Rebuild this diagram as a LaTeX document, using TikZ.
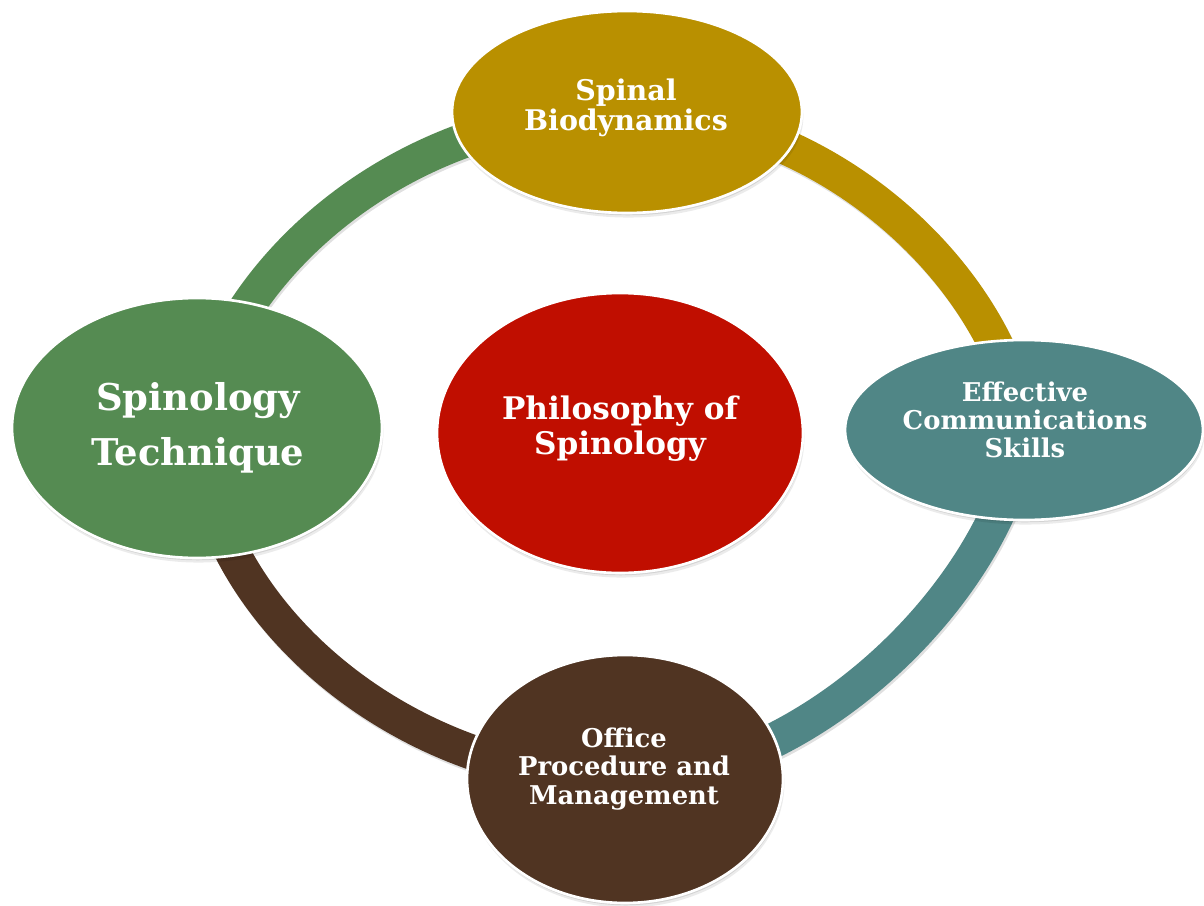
\documentclass[tikz,border=0pt]{standalone}
\usepackage{fontspec}
\setmainfont{DejaVu Serif}
\usetikzlibrary{shapes.geometric}
\definecolor{cgold}{HTML}{B99000}
\definecolor{cteal}{HTML}{508686}
\definecolor{cbrown}{HTML}{503422}
\definecolor{cgreen}{HTML}{558B52}
\definecolor{cred}{HTML}{C00E00}
\pgfdeclarelayer{paper}
\pgfdeclarelayer{background}
\pgfsetlayers{paper,background,main}
\begin{document}
\begin{tikzpicture}[x=0.02cm, y=-0.02cm,
  bubble/.style={ellipse, draw=white, line width=1.5pt, inner sep=0pt,
     preaction={fill=black, opacity=0.08, transform canvas={xshift=0.8pt, yshift=-2.6pt}},
     preaction={fill=black, opacity=0.10, transform canvas={xshift=0.4pt, yshift=-1.3pt}}},
  lbl/.style={text=white, align=center, inner sep=0pt},
  seg/.style={line width=0.7cm},
  segshadow/.style={line width=0.7cm, draw=black, opacity=0.12, transform canvas={xshift=0.8pt, yshift=-1.4pt}},
]
\begin{pgfonlayer}{paper}
\fill[white] (0,0) rectangle (1204,906);
\end{pgfonlayer}
\useasboundingbox (0,0) rectangle (1204,906);

% bubbles
\node[bubble, fill=cgold,  minimum width=7cm,    minimum height=4.04cm] (top)    at (627,112) {};
\node[bubble, fill=cgreen, minimum width=7.4cm,  minimum height=5.2cm]  (left)   at (197,428) {};
\node[bubble, fill=cteal,  minimum width=7.16cm, minimum height=3.6cm]  (right)  at (1024,430) {};
\node[bubble, fill=cbrown, minimum width=6.32cm, minimum height=4.96cm] (bottom) at (625,779) {};
\node[bubble, fill=cred,   minimum width=7.32cm, minimum height=5.6cm]  (center) at (620,433) {};

% labels
\node[lbl, font=\bfseries\fontsize{16.2}{17}\selectfont] (top-t) at (626,108) {Spinal\\Biodynamics};
\node[lbl, font=\bfseries\fontsize{21}{31.2}\selectfont] (left-t) at (198,428) {Spinology\\Technique};
\node[lbl, font=\bfseries\fontsize{17.7}{19.8}\selectfont] (center-t) at (620,429) {Philosophy of\\Spinology};
\node[lbl, font=\bfseries\fontsize{14.7}{15.9}\selectfont] (right-t) at (1025,420) {Effective\\Communications\\Skills};
\node[lbl, font=\bfseries\fontsize{14.7}{16.2}\selectfont] (bottom-t) at (624,769) {Office\\Procedure and\\Management};

% ring connectors
\begin{pgfonlayer}{background}
\draw[segshadow] (left.center) .. controls +(25,-152) and +(-232,0) .. (top.center);
\draw[segshadow] (top.center) .. controls +(191,0) and +(-28,-163) .. (right.center);
\draw[segshadow] (right.center) .. controls +(-28,169) and +(175,0) .. (bottom.center);
\draw[segshadow] (bottom.center) .. controls +(-221,0) and +(10,185) .. (left.center);
\draw[seg, cgreen] (left.center) .. controls +(25,-152) and +(-232,0) .. (top.center);
\draw[seg, cgold] (top.center) .. controls +(191,0) and +(-28,-163) .. (right.center);
\draw[seg, cteal] (right.center) .. controls +(-28,169) and +(175,0) .. (bottom.center);
\draw[seg, cbrown] (bottom.center) .. controls +(-221,0) and +(10,185) .. (left.center);
\end{pgfonlayer}
\end{tikzpicture}
\end{document}
